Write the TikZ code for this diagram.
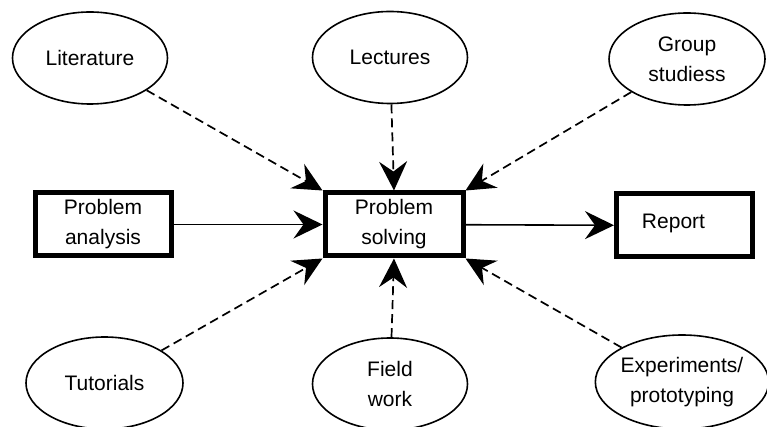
\documentclass[tikz,border=0pt]{standalone}
\usepackage{fontspec}
\setmainfont{Liberation Sans}
\usetikzlibrary{shapes.geometric,arrows.meta}
\begin{document}
\begin{tikzpicture}[x=1pt,y=-1pt,
  every node/.style={font=\fontsize{21}{30}\selectfont, align=center},
  oval/.style={ellipse, draw, line width=1.6pt, minimum width=155pt, minimum height=92pt, inner sep=0pt},
  thickbox/.style={rectangle, draw, line width=5pt, minimum width=136pt, minimum height=63pt, inner sep=0pt},
  dashline/.style={line width=1.7pt, dash pattern=on 9pt off 5pt, -{Stealth[length=29pt,width=28pt,inset=10pt]}},
  solidline/.style={line width=1.6pt, -{Stealth[length=29pt,width=28pt,inset=10pt]}}]
\useasboundingbox (0,0) rectangle (767,427);
\node[thickbox] (pa) at (103,224.5) {Problem\\analysis};
\node[thickbox, minimum width=138pt] (ps) at (394,224.5) {Problem\\solving};
\node[thickbox] (rep) at (684.5,225.5) {\raisebox{8pt}{Report}\hspace{22pt}};
\node[oval] (lit) at (90,58) {Literature};
\node[oval] (lec) at (390,57.5) {Lectures};
\node[oval, minimum width=156pt] (grp) at (687,59) {Group\\studiess};
\node[oval, minimum width=157pt] (tut) at (104.5,383) {Tutorials};
\node[oval] (fw) at (390,384) {Field\\work};
\node[oval, minimum width=166pt, minimum height=94pt] (exp) at (682,382) {Experiments/\\prototyping};
\draw[solidline] (pa) -- (ps);
\draw[solidline] (ps) -- (rep);
\draw[dashline] (lit) -- (ps.north west);
\draw[dashline] (lec) -- (ps.north);
\draw[dashline] (grp) -- (ps.north east);
\draw[dashline] (tut) -- (ps.south west);
\draw[dashline] (fw) -- (ps.south);
\draw[dashline] (exp) -- (ps.south east);
\end{tikzpicture}
\end{document}
